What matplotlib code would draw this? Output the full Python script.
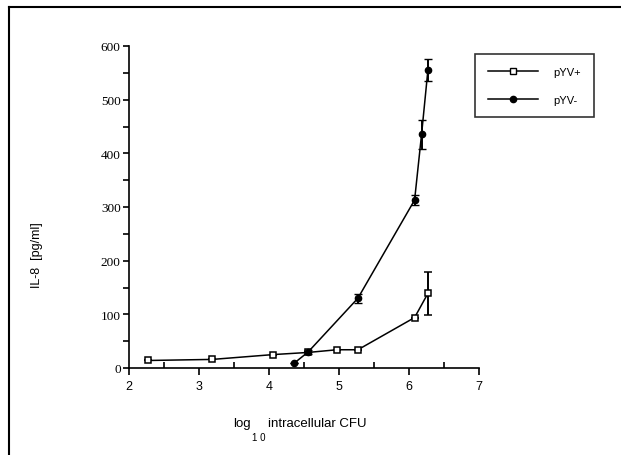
import matplotlib
matplotlib.use("Agg")
import matplotlib.pyplot as plt
from matplotlib.lines import Line2D
from matplotlib.ticker import MultipleLocator

# data
pos_x = [2.27, 3.19, 4.06, 4.56, 4.97, 5.27, 6.08, 6.27]
pos_y = [14, 16, 25, 29, 34, 34, 94, 139]
pos_err = [0, 0, 0, 0, 0, 0, 0, 40]

neg_x = [4.36, 4.56, 5.27, 6.08, 6.18, 6.27]
neg_y = [9, 30, 130, 313, 436, 555]
neg_err = [0, 4, 8, 9, 27, 20]

labels = ["pYV+", "pYV-"]

fig = plt.figure(figsize=(6.21, 4.56), dpi=100)
ax = fig.add_axes([129 / 621, 1 - 369 / 456, 350 / 621, 322 / 456])

# outer frame (only left and top edges visible)
fig.add_artist(Line2D([9 / 621, 9 / 621], [0, 1 - 8 / 456], color="black", lw=1.5))
fig.add_artist(Line2D([9 / 621, 1], [1 - 8 / 456, 1 - 8 / 456], color="black", lw=1.5))

ax.errorbar(pos_x, pos_y, yerr=pos_err, color="black", lw=1.1, marker="s", ms=5,
            mfc="white", mec="black", mew=1.1, capsize=3, elinewidth=1.4)
ax.errorbar(neg_x, neg_y, yerr=neg_err, color="black", lw=1.1, marker="o", ms=4.5,
            mfc="black", mec="black", capsize=3, elinewidth=1.4)

ax.set_xlim(2, 7)
ax.set_ylim(0, 600)
ax.spines["top"].set_visible(False)
ax.spines["right"].set_visible(False)
ax.spines["left"].set_linewidth(1.2)
ax.spines["bottom"].set_linewidth(1.2)

ax.xaxis.set_major_locator(MultipleLocator(1))
ax.xaxis.set_minor_locator(MultipleLocator(0.5))
ax.yaxis.set_major_locator(MultipleLocator(100))
ax.yaxis.set_minor_locator(MultipleLocator(50))
ax.tick_params(axis="x", which="major", direction="out", length=5, width=1.2)
ax.tick_params(axis="x", which="minor", direction="in", length=4, width=1.2)
ax.tick_params(axis="y", which="both", direction="out", length=4, width=1.2, pad=2)

for t in ax.get_yticklabels():
    t.set_fontfamily("Liberation Serif")
    t.set_fontsize(9.5)
for t in ax.get_xticklabels():
    t.set_fontfamily("Liberation Sans")
    t.set_fontsize(9)

fig.text(37 / 621, 1 - 255 / 456, "IL-8  [pg/ml]", rotation=90, ha="center", va="center",
         fontsize=9, family="Liberation Sans")
fig.text(233 / 621, 1 - 424 / 456, "log", ha="left", va="center", fontsize=9.5,
         family="Liberation Sans")
fig.text(252 / 621, 1 - 438 / 456, "1 0", ha="left", va="center", fontsize=7,
         family="Liberation Sans")
fig.text(268 / 621, 1 - 424 / 456, "intracellular CFU", ha="left", va="center", fontsize=9.5,
         family="Liberation Sans")

h1 = Line2D([], [], color="black", lw=1.1, marker="s", ms=5, mfc="white", mec="black")
h2 = Line2D([], [], color="black", lw=1.1, marker="o", ms=4.5, mfc="black")
leg = fig.legend([h1, h2], labels, loc="upper left", bbox_to_anchor=(475 / 621, 1 - 55 / 456),
                 frameon=True, fancybox=False, edgecolor="black", handlelength=4.5,
                 borderpad=1.15, labelspacing=1.6, handletextpad=1.4, borderaxespad=0,
                 prop={"family": "Liberation Sans", "size": 8})
leg.get_frame().set_linewidth(1.2)

fig.savefig("out.png", dpi=100)
